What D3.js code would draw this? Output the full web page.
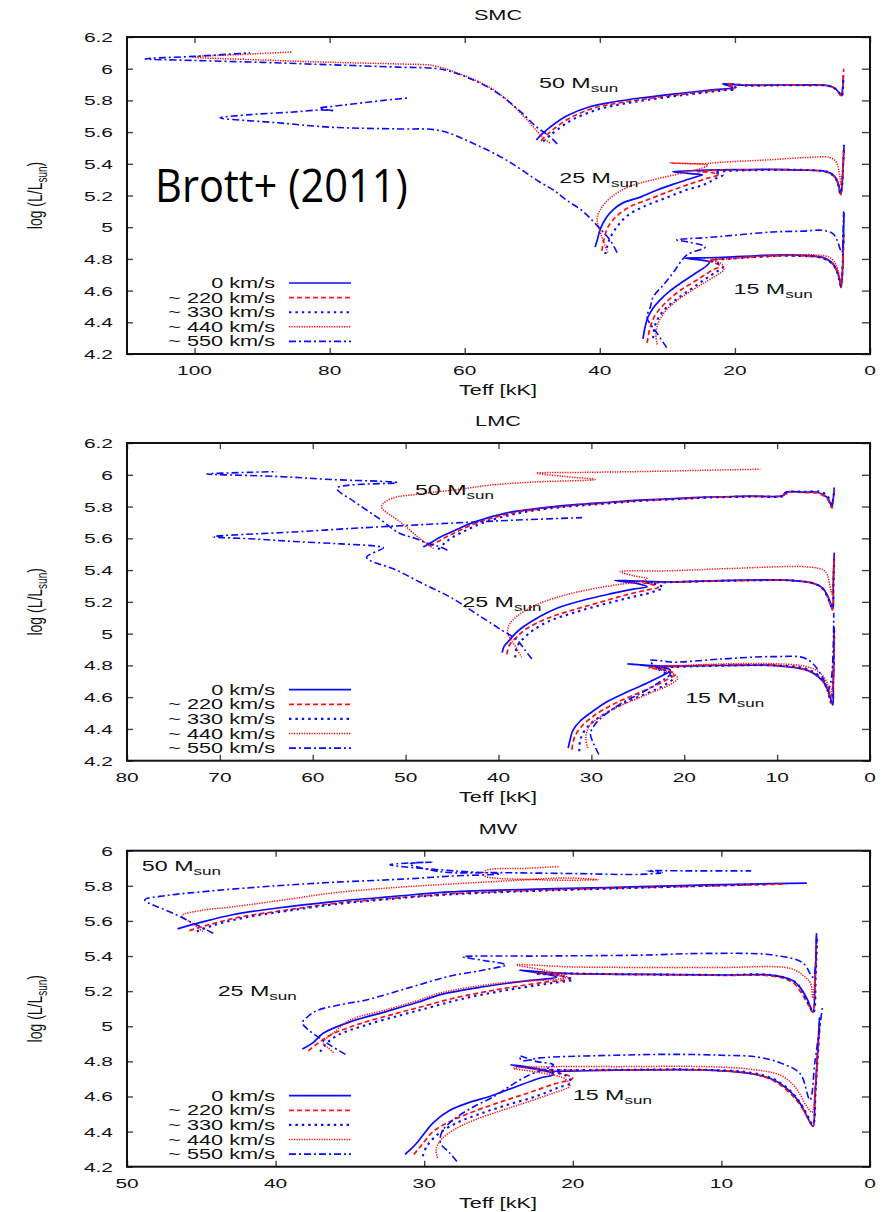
<!DOCTYPE html>
<html><head><meta charset="utf-8">
<script src="https://cdn.jsdelivr.net/npm/d3@7"></script>
<style>body{margin:0;background:#fff}</style></head>
<body>
<svg id="chart" width="896" height="1212"></svg>
<script>
// ---------------- DATA ----------------
const velocityLabels = ["0 km/s", "~ 220 km/s", "~ 330 km/s", "~ 440 km/s", "~ 550 km/s"];
const massLabels = ["50", "25", "15"];
const panelTitles = ["SMC", "LMC", "MW"];
const smcXTicks = [100, 80, 60, 40, 20, 0];
const lmcXTicks = [80, 70, 60, 50, 40, 30, 20, 10, 0];
const mwXTicks = [50, 40, 30, 20, 10, 0];
const yTicksHigh = [4.2, 4.4, 4.6, 4.8, 5.0, 5.2, 5.4, 5.6, 5.8, 6.0, 6.2];
const yTickLabelsHigh = ["4.2", "4.4", "4.6", "4.8", "5", "5.2", "5.4", "5.6", "5.8", "6", "6.2"];
const yTicksMW = [4.2, 4.4, 4.6, 4.8, 5.0, 5.2, 5.4, 5.6, 5.8, 6.0];
const yTickLabelsMW = ["4.2", "4.4", "4.6", "4.8", "5", "5.2", "5.4", "5.6", "5.8", "6"];
// mass label anchor points [Teff kK, logL]
const smcLabelPos = [[49.0, 5.878], [46.0, 5.279], [20.2, 4.579]];
const lmcLabelPos = [[49.0, 5.872], [43.9, 5.165], [19.9, 4.566]];
const mwLabelPos = [[49.0, 5.884], [43.9, 5.172], [20.0, 4.58]];

// tracks: [Teff (kK), log L/Lsun]; order: 0, 220, 330, 440, 550 km/s
const SMC_50 = [
 [[49.4,5.55],[48.5,5.59],[47.4,5.63],[45.0,5.70],[41.5,5.76],[38.0,5.79],[34.0,5.815],[28.0,5.845],[23.0,5.868],[20.3,5.88],[21.8,5.905],[19.5,5.897],[15.0,5.897],[10.0,5.897],[6.5,5.895],[5.3,5.88],[4.6,5.85],[4.25,5.83],[4.05,5.88],[3.95,5.96]],
 [[48.7,5.545],[47.9,5.58],[46.8,5.62],[44.4,5.69],[41,5.75],[37.5,5.782],[33.5,5.808],[27.5,5.84],[22.5,5.865],[20.0,5.878],[21.2,5.905],[18.5,5.895],[14,5.896],[9,5.896],[6.3,5.893],[5.2,5.875],[4.5,5.84],[4.2,5.82],[4.0,5.9],[3.9,6.0]],
 [[48.4,5.54],[47.5,5.575],[46.3,5.615],[44,5.68],[40.5,5.74],[37,5.775],[33,5.803],[27,5.837],[22,5.862],[19.8,5.875],[20.5,5.9],[18,5.893],[14,5.895],[9,5.895],[6.3,5.893],[5.2,5.875],[4.5,5.845],[4.2,5.825],[4.0,5.88],[3.92,5.95]],
 [[47.4,5.53],[48.5,5.57],[49.8,5.63],[51.5,5.71],[53.7,5.80],[56.0,5.875],[58.8,5.935],[61.5,5.98],[64.7,6.02],[70,6.03],[79.5,6.04],[90,6.055],[100.2,6.074],[93,6.09],[85.6,6.105]],
 [[46.3,5.525],[47.5,5.575],[49.3,5.63],[51.5,5.72],[53.7,5.80],[56.0,5.87],[58.8,5.93],[61.5,5.975],[64,6.0],[70,6.01],[80,6.025],[90,6.04],[100,6.052],[107.3,6.062],[100,6.078],[91.8,6.10]]
];
const SMC_25 = [
 [[40.7,4.875],[40.3,4.93],[40.0,4.98],[39.2,5.05],[38.05,5.11],[36.5,5.155],[34.0,5.19],[31.5,5.235],[29.2,5.27],[27.4,5.295],[25.6,5.32],[24.8,5.33],[27.0,5.34],[29.2,5.35],[26.5,5.356],[24.0,5.36],[20,5.363],[15,5.365],[10,5.36],[7.0,5.355],[5.6,5.335],[4.9,5.30],[4.55,5.25],[4.4,5.21],[4.2,5.24],[4.0,5.38],[3.85,5.51]],
 [[39.7,4.85],[39.4,4.92],[38.8,5.0],[37.5,5.07],[35.5,5.13],[32.5,5.18],[29.5,5.23],[26.5,5.275],[24.0,5.31],[22.5,5.33],[23.5,5.345],[25.5,5.35],[23,5.358],[18,5.362],[14,5.364],[10,5.36],[7.0,5.353],[5.6,5.33],[4.9,5.29],[4.55,5.24],[4.4,5.2],[4.2,5.23],[4.0,5.36],[3.85,5.5]],
 [[39.2,4.83],[38.6,4.92],[37.5,5.0],[36.0,5.07],[33.5,5.13],[30.5,5.18],[27.5,5.23],[24.5,5.27],[22.7,5.31],[21.8,5.33],[23.0,5.345],[21.0,5.355],[17,5.36],[12,5.362],[8,5.358],[6.0,5.345],[5.0,5.30],[4.6,5.25],[4.4,5.21],[4.2,5.24],[4.0,5.37],[3.85,5.52]],
 [[38.8,4.84],[39.8,4.95],[40.4,5.05],[39.8,5.12],[38.3,5.19],[36.0,5.25],[33.0,5.29],[30.0,5.32],[27.5,5.345],[25.5,5.365],[24.0,5.39],[29.6,5.405],[25.0,5.40],[22.0,5.41],[15,5.425],[9.3,5.44],[6.0,5.44],[5.0,5.41],[4.5,5.33],[4.3,5.27],[4.05,5.35],[3.9,5.48]],
 [[37.45,4.84],[38.5,4.92],[40.4,5.01],[42.5,5.10],[44.9,5.17],[46.9,5.235],[48.9,5.285],[53.7,5.42],[58.8,5.53],[63.7,5.61],[70,5.62],[79.5,5.63],[88,5.66],[96.2,5.69],[91.8,5.71],[86,5.725],[81,5.74],[79.3,5.735],[81.5,5.75],[78,5.77],[72,5.80],[68.4,5.815]]
];
const SMC_15 = [
 [[33.6,4.295],[33.3,4.37],[32.9,4.43],[32.1,4.49],[31.1,4.54],[29.7,4.595],[28.1,4.645],[26.0,4.705],[24.1,4.76],[23.8,4.78],[25.5,4.795],[27.4,4.805],[24.5,4.807],[21.8,4.81],[17,4.82],[11.8,4.825],[7.0,4.81],[5.6,4.775],[4.9,4.73],[4.5,4.67],[4.3,4.62],[4.12,4.68],[3.95,4.9],[3.85,5.09]],
 [[33.0,4.27],[32.6,4.36],[32.0,4.43],[31.0,4.49],[29.6,4.55],[27.8,4.61],[25.5,4.67],[23.5,4.725],[22.2,4.755],[23.0,4.775],[24.0,4.79],[22,4.80],[18,4.81],[12,4.82],[7,4.805],[5.6,4.77],[4.9,4.72],[4.5,4.66],[4.3,4.62],[4.1,4.7],[3.9,4.95]],
 [[32.1,4.30],[31.9,4.37],[31.3,4.43],[30.2,4.49],[28.5,4.55],[26.5,4.61],[24.5,4.67],[22.7,4.72],[21.8,4.745],[22.4,4.77],[23.5,4.79],[21,4.80],[17,4.812],[12,4.82],[7,4.805],[5.6,4.77],[4.9,4.72],[4.5,4.66],[4.3,4.63],[4.1,4.72],[3.9,4.98]],
 [[31.5,4.26],[31.7,4.33],[31.3,4.40],[30.3,4.47],[28.8,4.53],[26.8,4.59],[24.5,4.65],[22.6,4.70],[21.6,4.735],[22.0,4.77],[23.5,4.795],[21,4.80],[17,4.815],[12,4.825],[8,4.825],[6.0,4.81],[5.0,4.76],[4.5,4.68],[4.3,4.64],[4.1,4.72],[3.9,4.95]],
 [[30.1,4.24],[31.5,4.33],[33.0,4.43],[32.5,4.50],[32.1,4.56],[30.5,4.64],[29.2,4.71],[27.1,4.825],[24.4,4.875],[26.7,4.905],[28.6,4.92],[24,4.935],[20,4.95],[14.4,4.97],[10,4.975],[7,4.98],[5.5,4.96],[4.9,4.92],[4.4,4.86],[4.15,4.84],[4.0,4.95],[3.9,5.1]]
];
const LMC_50 = [
 [[48.1,5.545],[47.2,5.575],[46.3,5.607],[44.5,5.655],[42.7,5.70],[39.1,5.76],[35.5,5.79],[32.0,5.81],[28.0,5.827],[24.8,5.84],[20.0,5.853],[17.6,5.86],[13.0,5.865],[9.4,5.87],[9.1,5.89],[7.0,5.89],[5.7,5.89],[4.9,5.87],[4.5,5.85],[4.1,5.80],[3.95,5.85],[3.85,5.92]],
 [[47.4,5.55],[46.5,5.58],[45.6,5.61],[44,5.655],[42.2,5.70],[38.8,5.755],[35.2,5.787],[31.7,5.807],[27.8,5.825],[24.5,5.838],[19.8,5.851],[17.4,5.858],[12.8,5.864],[9.3,5.869],[9.0,5.888],[7.0,5.888],[5.7,5.885],[4.9,5.865],[4.5,5.84],[4.1,5.79],[3.95,5.85],[3.8,5.915]],
 [[46.5,5.53],[45.8,5.57],[45.0,5.605],[43.5,5.65],[41.8,5.695],[38.5,5.75],[35,5.785],[31.5,5.805],[27.5,5.823],[24.3,5.837],[19.6,5.85],[17.2,5.857],[12.6,5.863],[9.2,5.868],[8.9,5.89],[7,5.893],[5.5,5.895],[4.7,5.875],[4.4,5.85],[4.1,5.81],[3.95,5.86],[3.85,5.9]],
 [[47.0,5.535],[48.5,5.60],[50.5,5.70],[52.6,5.80],[51.4,5.853],[49.0,5.875],[47.0,5.89],[44.0,5.91],[40.9,5.935],[36.0,5.955],[29.6,5.97],[33.0,5.99],[35.9,6.01],[31.0,6.015],[24.8,6.02],[18.0,6.028],[11.8,6.035]],
 [[45.5,5.525],[46.5,5.55],[47.7,5.57],[49.0,5.60],[50.6,5.63],[53.0,5.73],[55.5,5.83],[57.4,5.915],[50.9,5.95],[58,5.97],[64,5.99],[71.4,6.005],[67,6.015],[63.85,6.02]]
];
const LMC_25 = [
 [[39.6,4.88],[39.4,4.92],[38.8,4.96],[38.2,5.0],[37.4,5.04],[35.5,5.11],[33.7,5.16],[30.9,5.21],[28.0,5.25],[25.5,5.28],[24.0,5.295],[25.0,5.315],[27.5,5.335],[25.0,5.33],[21.2,5.325],[15,5.335],[8.6,5.335],[6.0,5.315],[5.06,5.285],[4.5,5.23],[4.0,5.16],[3.95,5.3],[3.85,5.51]],
 [[39.1,4.87],[38.8,4.93],[38.0,4.98],[37.0,5.03],[35.0,5.09],[32.5,5.14],[29.5,5.19],[26.5,5.24],[24.0,5.275],[22.8,5.29],[23.5,5.31],[24.5,5.32],[22.5,5.322],[18,5.33],[12,5.335],[8.6,5.335],[6,5.315],[5.06,5.28],[4.5,5.22],[4.05,5.15],[3.95,5.3],[3.85,5.48]],
 [[38.2,4.85],[38.0,4.92],[37.3,4.97],[36.3,5.02],[34.5,5.08],[32.0,5.13],[29.0,5.18],[26.0,5.225],[23.5,5.26],[22.3,5.29],[23.0,5.31],[24.0,5.32],[21,5.325],[15,5.333],[8.6,5.335],[6,5.315],[5.06,5.28],[4.5,5.22],[4.05,5.16],[3.95,5.3],[3.85,5.5]],
 [[37.5,4.85],[38.3,4.93],[39.0,5.0],[38.8,5.06],[38.0,5.11],[36.0,5.18],[33.0,5.24],[30.0,5.28],[27.0,5.31],[25.0,5.325],[24.0,5.345],[25.5,5.365],[26.9,5.39],[22.0,5.395],[15.0,5.41],[6.8,5.42],[5.0,5.40],[4.6,5.37],[4.1,5.25],[3.95,5.4],[3.85,5.5]],
 [[36.4,4.84],[37.2,4.90],[38.0,4.96],[39.6,5.02],[42.0,5.11],[45.2,5.23],[48.0,5.31],[51.0,5.40],[54.2,5.48],[52.4,5.54],[53.1,5.55],[57.0,5.565],[62.0,5.58],[66.0,5.595],[70.7,5.61],[62.0,5.64],[55.0,5.665],[45.2,5.695],[38.0,5.715],[31.0,5.73]]
];
const LMC_15 = [
 [[32.5,4.28],[32.3,4.33],[32.0,4.39],[31.2,4.45],[30.1,4.50],[28.5,4.565],[26.6,4.62],[24.7,4.67],[22.9,4.72],[21.5,4.77],[23.5,4.795],[26.1,4.81],[24.0,4.80],[21.5,4.795],[18,4.798],[14,4.80],[10.4,4.80],[8.0,4.785],[6.8,4.77],[5.6,4.73],[4.6,4.66],[4.3,4.60],[4.0,4.55],[3.95,4.7],[3.85,5.04]],
 [[32.1,4.27],[31.8,4.35],[31.0,4.42],[29.8,4.48],[28.0,4.545],[26.0,4.60],[24.0,4.65],[22.2,4.70],[21.0,4.745],[22.0,4.77],[23.8,4.785],[21.5,4.79],[18,4.80],[10.4,4.80],[7.0,4.775],[5.5,4.73],[4.6,4.65],[4.2,4.56],[3.95,4.7],[3.85,5.0]],
 [[31.3,4.26],[31.2,4.33],[30.6,4.40],[29.5,4.46],[27.8,4.52],[25.8,4.58],[23.8,4.63],[22.0,4.68],[21.2,4.72],[22.3,4.76],[23.0,4.785],[21.0,4.79],[17,4.797],[10.4,4.80],[7.0,4.78],[5.5,4.735],[4.6,4.655],[4.2,4.57],[3.95,4.72],[3.85,5.02]],
 [[30.4,4.28],[30.6,4.35],[30.2,4.42],[29.2,4.47],[27.5,4.53],[25.5,4.58],[23.5,4.63],[21.5,4.68],[20.7,4.72],[21.3,4.75],[23.5,4.79],[20,4.80],[15,4.81],[10,4.81],[7,4.795],[5.5,4.76],[4.7,4.70],[4.2,4.62],[3.95,4.75],[3.85,5.0]],
 [[29.2,4.24],[29.7,4.30],[30.1,4.37],[29.6,4.43],[28.3,4.50],[26.5,4.57],[24.5,4.63],[22.8,4.69],[21.5,4.75],[23.0,4.79],[23.7,4.83],[22.0,4.825],[21.2,4.82],[16.0,4.84],[10.4,4.855],[6.8,4.84],[5.06,4.72],[4.6,4.64],[4.2,4.7],[3.9,5.13]]
];
const MW_50 = [
 [[46.6,5.555],[45.1,5.59],[42.9,5.635],[40.0,5.672],[36.1,5.71],[32.0,5.74],[28.3,5.765],[23.0,5.78],[17.7,5.79],[13.3,5.80],[8.0,5.81],[4.25,5.815]],
 [[45.8,5.545],[44.5,5.578],[42.5,5.62],[39.0,5.665],[36.0,5.70],[32.0,5.73],[28.0,5.755],[23.0,5.773],[18.0,5.785],[13.0,5.795],[8.0,5.805],[5.6,5.81]],
 [[45.3,5.54],[44.2,5.575],[42.0,5.62],[39.0,5.66],[36.0,5.695],[32.0,5.727],[28.0,5.752],[23.0,5.77],[18.0,5.783],[13.0,5.795],[9.0,5.805],[7.0,5.81]],
 [[44.9,5.54],[45.6,5.585],[46.3,5.63],[45.0,5.66],[42.9,5.68],[39.0,5.725],[36.1,5.76],[32.0,5.79],[28.3,5.81],[24.0,5.83],[20.4,5.845],[18.3,5.835],[22.5,5.835],[26.0,5.86],[25.9,5.885],[23.0,5.90],[20.9,5.91]],
 [[44.2,5.53],[45.5,5.585],[46.8,5.64],[48.8,5.72],[47.3,5.745],[45.1,5.765],[40.0,5.80],[36.1,5.82],[31.0,5.84],[28.3,5.855],[24.9,5.868],[28.0,5.885],[32.3,5.92],[29.5,5.935],[31.0,5.925],[28.9,5.88],[24.9,5.875],[20.0,5.87],[15.5,5.865],[14.0,5.875],[15.0,5.885],[12.0,5.885],[8.0,5.885]]
];
const MW_25 = [
 [[38.2,4.87],[37.5,4.905],[36.8,4.96],[35.0,5.025],[32.5,5.085],[30.5,5.135],[28.9,5.18],[26.0,5.225],[23.0,5.26],[21.1,5.28],[22.0,5.30],[23.6,5.32],[21.5,5.305],[20.0,5.30],[15.0,5.295],[10.0,5.292],[6.5,5.29],[5.2,5.26],[4.7,5.22],[4.2,5.15],[3.84,5.08],[3.7,5.25],[3.6,5.53]],
 [[37.8,4.86],[37.2,4.90],[36.3,4.95],[34.5,5.01],[32.0,5.07],[30.0,5.115],[28.0,5.16],[25.0,5.21],[22.0,5.25],[20.2,5.27],[21.0,5.29],[22.5,5.305],[20.5,5.30],[15,5.295],[10,5.29],[6.5,5.285],[5.2,5.25],[4.7,5.2],[4.2,5.13],[3.84,5.08],[3.7,5.25],[3.6,5.5]],
 [[37.0,4.855],[36.6,4.90],[35.8,4.95],[34.0,5.005],[31.5,5.065],[29.5,5.11],[27.5,5.155],[24.5,5.205],[21.5,5.245],[20.0,5.265],[21.0,5.29],[22.5,5.30],[20.0,5.30],[15,5.295],[10,5.292],[6.5,5.29],[5.0,5.25],[4.5,5.19],[4.1,5.12],[3.8,5.08],[3.65,5.3],[3.55,5.52]],
 [[36.1,4.85],[36.5,4.88],[36.8,4.905],[36.0,4.97],[35.0,5.035],[32.5,5.095],[30.5,5.145],[28.9,5.19],[25.0,5.245],[20.4,5.28],[22.0,5.32],[23.8,5.35],[20.0,5.338],[15.5,5.335],[10,5.335],[5.4,5.33],[4.5,5.29],[4.0,5.245],[3.85,5.16],[3.7,5.3],[3.6,5.49]],
 [[35.3,4.84],[36.2,4.885],[37.0,4.93],[37.8,4.98],[38.2,5.02],[37.9,5.05],[37.2,5.09],[35.5,5.125],[33.9,5.15],[31.0,5.22],[28.3,5.285],[26.0,5.32],[24.5,5.35],[26.0,5.375],[27.4,5.395],[22.0,5.40],[15.5,5.405],[11.0,5.415],[6.5,5.405],[4.5,5.36],[3.84,5.28],[3.6,5.53]]
];
const MW_15 = [
 [[31.3,4.27],[30.9,4.30],[30.5,4.335],[29.4,4.45],[28.3,4.52],[27.0,4.565],[25.6,4.60],[24.0,4.65],[22.2,4.705],[21.3,4.725],[22.5,4.76],[24.2,4.78],[22.5,4.755],[21.7,4.745],[17.0,4.75],[11.0,4.75],[8.0,4.73],[6.5,4.695],[5.4,4.63],[4.7,4.56],[4.2,4.48],[3.84,4.43],[3.7,4.6],[3.4,5.05]],
 [[30.7,4.27],[30.2,4.32],[29.4,4.40],[28.2,4.46],[26.8,4.51],[25.0,4.565],[23.0,4.62],[21.3,4.67],[20.0,4.705],[21.0,4.735],[22.5,4.755],[21.0,4.75],[17,4.75],[11,4.75],[8,4.73],[6.5,4.69],[5.4,4.62],[4.7,4.55],[4.2,4.48],[3.84,4.43],[3.7,4.6],[3.4,5.0]],
 [[30.1,4.26],[29.8,4.32],[29.0,4.39],[27.8,4.45],[26.3,4.50],[24.5,4.55],[22.5,4.60],[21.0,4.65],[20.1,4.68],[20.5,4.72],[22.0,4.75],[20.5,4.75],[17,4.752],[11,4.752],[8,4.735],[6.5,4.70],[5.4,4.635],[4.7,4.565],[4.2,4.49],[3.84,4.44],[3.65,4.65],[3.35,5.05]],
 [[29.1,4.25],[29.2,4.30],[28.8,4.36],[27.8,4.42],[26.5,4.47],[24.8,4.52],[23.0,4.57],[21.3,4.62],[20.2,4.66],[20.5,4.70],[22.5,4.74],[24.0,4.76],[21.0,4.77],[17,4.77],[11,4.77],[8,4.755],[6,4.72],[5,4.65],[4.3,4.55],[3.9,4.51],[3.7,4.65],[3.4,5.0]],
 [[27.8,4.23],[28.3,4.28],[28.9,4.335],[28.8,4.40],[28.0,4.47],[26.7,4.54],[25.3,4.60],[24.4,4.65],[23.0,4.72],[21.3,4.78],[22.5,4.80],[23.6,4.83],[23.4,4.805],[22.2,4.82],[17,4.835],[13.3,4.84],[10,4.835],[7.6,4.825],[6,4.79],[4.7,4.73],[4.04,4.58],[3.7,4.8],[3.2,5.11]]
];

// ---------------- LAYOUT / STYLE ----------------
const STRETCH = 1.55;
const FONT = "'Liberation Sans', Arial, Helvetica, sans-serif";
const BLUE = "#0a0aff", RED = "#ff1010";
const styles = [
  {color: BLUE, dash: null, width: 1.7},
  {color: RED, dash: "5,3", width: 1.7},
  {color: BLUE, dash: "2.4,4", width: 2.1},
  {color: RED, dash: "1.3,1.2", width: 1.5},
  {color: BLUE, dash: "7,3,2,3", width: 1.6}
];
const left = 127, right = 870;
const panels = [
  {title: panelTitles[0], top: 37, bottom: 354, xDom: [110, 0], yDom: [4.2, 6.2], xTicks: smcXTicks, yTicks: yTicksHigh, yLabels: yTickLabelsHigh, tracks: [SMC_50, SMC_25, SMC_15], labelPos: smcLabelPos},
  {title: panelTitles[1], top: 443, bottom: 760.7, xDom: [80, 0], yDom: [4.2, 6.2], xTicks: lmcXTicks, yTicks: yTicksHigh, yLabels: yTickLabelsHigh, tracks: [LMC_50, LMC_25, LMC_15], labelPos: lmcLabelPos},
  {title: panelTitles[2], top: 850.7, bottom: 1166.7, xDom: [50, 0], yDom: [4.2, 6.0], xTicks: mwXTicks, yTicks: yTicksMW, yLabels: yTickLabelsMW, tracks: [MW_50, MW_25, MW_15], labelPos: mwLabelPos}
];

const svg = d3.select("#chart");
svg.append("rect").attr("width", 896).attr("height", 1212).attr("fill", "#fff");

function stretchedText(g, x, y, str, size, anchor) {
  return g.append("text")
    .attr("transform", `translate(${x},${y}) scale(${STRETCH},1)`)
    .attr("text-anchor", anchor)
    .attr("font-family", FONT)
    .attr("font-size", size)
    .attr("fill", "#111")
    .text(str);
}
function applyStyle(sel, st) {
  sel.attr("fill", "none").attr("stroke", st.color).attr("stroke-width", st.width)
     .attr("stroke-linejoin", "round");
  if (st.dash) sel.attr("stroke-dasharray", st.dash);
}

panels.forEach((p, pi) => {
  const g = svg.append("g");
  const xs = d3.scaleLinear().domain(p.xDom).range([left, right]);
  const ys = d3.scaleLinear().domain(p.yDom).range([p.bottom, p.top]);
  const h = p.bottom - p.top;

  const cid = "clip" + pi;
  svg.append("defs").append("clipPath").attr("id", cid)
    .append("rect").attr("x", left).attr("y", p.top).attr("width", right - left).attr("height", h);

  const tickStyle = sel => { sel.select(".domain").remove(); sel.selectAll("line").attr("stroke", "#444").attr("stroke-width", 1.4); };
  g.append("g").attr("transform", `translate(0,${p.bottom})`)
    .call(d3.axisBottom(xs).tickValues(p.xTicks).tickSize(-6).tickFormat("")).call(tickStyle);
  g.append("g").attr("transform", `translate(0,${p.top})`)
    .call(d3.axisTop(xs).tickValues(p.xTicks).tickSize(-6).tickFormat("")).call(tickStyle);
  g.append("g").attr("transform", `translate(${left},0)`)
    .call(d3.axisLeft(ys).tickValues(p.yTicks).tickSize(-6).tickFormat("")).call(tickStyle);
  g.append("g").attr("transform", `translate(${right},0)`)
    .call(d3.axisRight(ys).tickValues(p.yTicks).tickSize(-8).tickFormat("")).call(tickStyle);

  p.xTicks.forEach(t => stretchedText(g, xs(t), p.bottom + 21, String(t), 13.5, "middle"));
  p.yTicks.forEach((t, i) => stretchedText(g, 113, ys(t) + 5, p.yLabels[i], 13.5, "end"));

  const line = d3.line().x(d => xs(d[0])).y(d => ys(d[1])).curve(d3.curveCatmullRom.alpha(0.5));
  const tg = g.append("g").attr("clip-path", `url(#${cid})`);
  p.tracks.forEach(massSet => {
    massSet.forEach((tr, vi) => {
      tg.append("path").attr("d", line(tr)).call(applyStyle, styles[vi]);
    });
  });

  g.append("rect").attr("x", left).attr("y", p.top).attr("width", right - left).attr("height", h)
    .attr("fill", "none").attr("stroke", "#111").attr("stroke-width", 2);

  p.labelPos.forEach((pos, mi) => {
    const t = stretchedText(g, xs(pos[0]), ys(pos[1]), massLabels[mi] + " M", 15, "start");
    t.append("tspan").attr("font-size", 11).attr("dy", 4).text("sun");
  });

  stretchedText(g, 498, p.top - 17, p.title, 14, "middle");
  stretchedText(g, 498, p.bottom + 41, "Teff [kK]", 14, "middle");
  const yl = g.append("text")
    .attr("transform", `translate(42,${(p.top + p.bottom) / 2}) scale(1.5,1) rotate(-90)`)
    .attr("text-anchor", "middle").attr("font-family", FONT).attr("font-size", 14).attr("fill", "#111");
  yl.append("tspan").text("log (L/L");
  yl.append("tspan").attr("font-size", 10).attr("dy", 3).text("sun");
  yl.append("tspan").attr("dy", -3).text(")");

  const ly0 = p.bottom - 71;
  velocityLabels.forEach((lab, vi) => {
    const yy = ly0 + vi * 14.6;
    stretchedText(g, 275, yy + 5, lab, 14, "end");
    g.append("line").attr("x1", 289).attr("x2", 351).attr("y1", yy).attr("y2", yy).call(applyStyle, styles[vi]);
  });

  if (pi === 0) {
    const bt = g.append("text").attr("font-family", "'Open Sans', 'Noto Sans', sans-serif")
      .attr("font-size", 45).attr("fill", "#000").text("Brott+ (2011)");
    const len = bt.node().getComputedTextLength();
    bt.attr("transform", `translate(155,202) scale(${253 / len},1)`);
  }
});
</script>
</body></html>
